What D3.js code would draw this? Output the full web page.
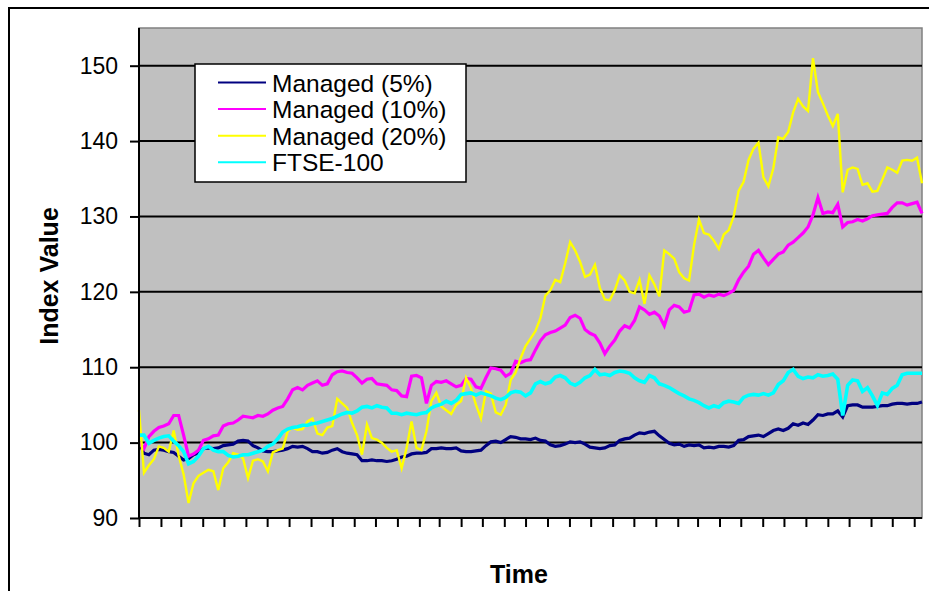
<!DOCTYPE html>
<html>
<head>
<meta charset="utf-8">
<script src="https://cdn.jsdelivr.net/npm/d3@7"></script>
<style>
  body { margin: 0; background: #fff; }
  svg { display: block; }
  text { font-family: Arial, "Liberation Sans", sans-serif; fill: #000; }
</style>
</head>
<body>
<svg id="chart" width="929" height="591"></svg>
<script>
// Weekly index values, first observation on 1 Jan 1997
const startDate = new Date(1997, 0, 1);
const stepDays = 7;

const seriesNames = ["Managed (5%)", "Managed (10%)", "Managed (20%)", "FTSE-100"];

const managed5 = [
  100.0, 98.6, 98.4, 99.0, 99.1, 99.0, 98.8, 98.7, 98.2, 97.7,
  97.9, 98.4, 98.6, 99.2, 99.3, 99.2, 99.3, 99.6, 99.7, 99.8,
  100.2, 100.3, 100.2, 99.6, 99.3, 98.9, 98.8, 98.8, 98.9, 99.0,
  99.2, 99.5, 99.4, 99.5, 99.2, 98.8, 98.8, 98.6, 98.7, 99.0,
  99.2, 98.8, 98.6, 98.5, 98.4, 97.6, 97.6, 97.7, 97.6, 97.6,
  97.5, 97.6, 97.8, 98.1, 98.2, 98.5, 98.6, 98.6, 98.7, 99.2,
  99.2, 99.3, 99.2, 99.2, 99.3, 98.9, 98.8, 98.8, 98.9, 99.0,
  99.6, 100.1, 100.2, 100.0, 100.4, 100.8, 100.7, 100.5, 100.5, 100.4,
  100.6, 100.3, 100.2, 99.7, 99.5, 99.6, 99.8, 100.1, 100.0, 100.1,
  99.8, 99.4, 99.3, 99.2, 99.3, 99.6, 99.7, 100.3, 100.5, 100.6,
  101.0, 101.3, 101.2, 101.4, 101.5, 100.9, 100.4, 99.9, 99.7, 99.8,
  99.5, 99.7, 99.6, 99.7, 99.3, 99.4, 99.3, 99.5, 99.5, 99.4,
  99.6, 100.3, 100.4, 100.8, 100.9, 101.0, 100.8, 101.2, 101.6, 101.8,
  101.6, 101.9, 102.5, 102.3, 102.6, 102.4, 103.0, 103.7, 103.6, 103.8,
  103.8, 104.2, 103.4, 104.9, 105.0, 105.0, 104.7, 104.7, 104.7, 104.8,
  104.9, 104.9, 105.1, 105.2, 105.2, 105.1, 105.2, 105.2, 105.4
];

const managed10 = [
  100.0, 99.2, 100.8, 101.5, 102.0, 102.2, 102.5, 103.6, 103.6, 101.0,
  98.2, 98.5, 99.0, 100.3, 100.5, 100.9, 101.0, 102.2, 102.5, 102.6,
  103.0, 103.5, 103.4, 103.3, 103.6, 103.5, 103.8, 104.3, 104.6, 104.8,
  105.8, 107.0, 107.3, 107.0, 107.6, 107.9, 108.2, 107.6, 107.8, 109.0,
  109.4, 109.5, 109.3, 109.2, 108.6, 107.9, 108.4, 108.5, 107.8, 107.7,
  107.6, 107.0, 106.9, 106.2, 106.1, 108.8, 108.9, 108.6, 105.2, 107.6,
  108.1, 108.0, 108.2, 107.8, 107.4, 107.6, 108.5, 108.4, 107.4, 107.2,
  108.6, 109.9, 109.8, 109.6, 108.8, 109.2, 110.8, 110.6, 110.9, 111.0,
  112.3, 113.5, 114.3, 114.6, 114.8, 115.2, 115.6, 116.6, 116.9, 116.5,
  115.0, 114.5, 114.2, 113.2, 111.8, 112.8, 113.6, 114.8, 115.5, 115.2,
  116.2, 118.0, 117.6, 117.0, 117.3, 116.8, 115.5, 117.6, 118.2, 118.0,
  117.3, 117.5, 119.6, 119.7, 119.3, 119.6, 119.4, 119.7, 119.5, 119.8,
  120.2, 121.6, 122.6, 123.4, 125.0, 125.5, 124.5, 123.6, 124.3, 125.0,
  125.3, 126.2, 126.6, 127.2, 127.8, 128.6, 130.2, 132.5, 130.4, 130.6,
  130.5, 131.6, 128.6, 129.2, 129.3, 129.6, 129.4, 129.7, 130.1, 130.2,
  130.3, 130.4, 131.2, 131.8, 131.8, 131.5, 131.7, 131.9, 130.4
];

const managed20 = [
  104.3, 96.0, 97.0, 97.8, 99.5, 99.3, 98.8, 101.6, 98.3, 95.8,
  92.0, 94.6, 95.6, 96.0, 96.4, 96.2, 93.7, 96.6, 97.4, 98.6,
  98.4, 97.9, 95.3, 97.6, 97.8, 97.5, 96.2, 98.7, 99.0, 99.2,
  101.5, 102.0, 101.7, 101.8, 102.8, 103.2, 101.2, 101.0, 102.0, 102.2,
  105.8, 105.2, 104.6, 102.6, 101.0, 98.4, 102.4, 100.6, 100.4, 100.0,
  99.3, 98.8, 99.0, 96.6, 99.3, 102.8, 99.3, 99.0, 101.5, 105.5,
  106.6, 104.8, 104.3, 103.8, 105.0, 105.5, 108.6, 107.2, 105.0, 103.2,
  106.8, 106.5, 104.0, 103.7, 105.0, 108.3, 109.3, 111.2, 112.8, 113.8,
  114.8, 116.5, 119.5, 120.2, 121.6, 121.3, 123.8, 126.6, 125.5, 124.0,
  122.0, 122.3, 123.6, 120.5, 119.0, 118.9, 120.2, 122.2, 121.5, 120.0,
  119.8, 121.6, 118.4, 122.2, 121.0, 119.4, 125.5, 125.0, 124.4, 122.6,
  121.8, 121.5, 126.2, 129.6, 127.8, 127.6, 126.8, 125.7, 127.6, 128.2,
  130.0, 133.4, 134.6, 137.5, 139.0, 139.8, 135.2, 134.0, 136.4, 140.5,
  140.3, 141.2, 143.8, 145.6, 144.6, 144.0, 151.0, 146.5, 145.0, 143.4,
  142.0, 143.6, 133.2, 136.2, 136.5, 136.3, 134.2, 134.4, 133.3, 133.4,
  134.9, 136.5, 136.2, 135.8, 137.4, 137.5, 137.4, 137.8, 134.4
];

const ftse100 = [
  101.0, 101.0, 99.9, 100.3, 100.6, 100.8, 100.9, 100.2, 99.6, 98.8,
  97.2, 97.5, 98.2, 99.2, 99.5, 99.0, 98.8, 98.8, 98.3, 98.1,
  98.2, 98.4, 98.4, 98.6, 98.8, 99.0, 99.5, 99.8, 100.5, 101.4,
  101.8, 102.0, 102.1, 102.3, 102.3, 102.5, 102.6, 102.8, 103.0, 103.2,
  103.5, 103.8, 104.0, 103.9, 104.2, 104.7, 104.8, 104.6, 104.9, 104.7,
  104.6, 103.9, 103.9, 103.7, 103.9, 103.8, 103.7, 103.9, 104.0, 104.6,
  104.9, 105.1, 105.5, 105.2, 105.6, 106.4, 106.5, 106.6, 106.3, 106.6,
  106.4, 106.2, 105.9, 105.7, 106.0, 106.6, 106.8, 106.7, 106.2, 106.6,
  107.8, 108.1, 107.8, 108.0, 108.7, 108.9, 108.6, 107.9, 107.6, 108.0,
  108.6, 108.9, 109.7, 109.0, 109.1, 108.9, 109.3, 109.5, 109.4, 109.2,
  108.6, 108.2, 108.0, 108.9, 108.6, 107.8, 107.6, 107.3, 106.9, 106.5,
  106.2, 105.8, 105.6, 105.3, 104.9, 104.6, 104.9, 104.7, 105.3, 105.5,
  105.4, 105.2, 106.0, 106.3, 106.4, 106.3, 106.5, 106.3, 106.6, 107.7,
  108.2, 109.3, 109.7, 108.8, 108.5, 108.7, 108.6, 109.0, 108.8, 108.9,
  109.1, 108.4, 103.6, 107.6, 108.3, 108.2, 106.8, 107.3, 106.2, 104.9,
  106.6, 106.4, 107.2, 107.6, 109.0, 109.2, 109.2, 109.2, 109.2
];

const yTickValues = [90, 100, 110, 120, 130, 140, 150];
const yTitle = "Index Value";
const xTitle = "Time";

// Drawing setup
const svg = d3.select("#chart");
const plot = { left: 139, top: 28, right: 922, bottom: 518 };
const colors = ["#000080", "#FF00FF", "#FFFF00", "#00FFFF"];
const widths = [3.2, 3.2, 2.4, 3.6];

const seriesValues = [managed5, managed10, managed20, ftse100];
const nPoints = managed5.length;
const dateAt = i => d3.timeDay.offset(startDate, i * stepDays);
const endDate = dateAt(nPoints - 1);

const x = d3.scaleTime().domain([startDate, endDate]).range([plot.left, plot.right]);
const y = d3.scaleLinear().domain([90, 155]).range([plot.bottom, plot.top]);

// Outer chart frame
svg.append("rect")
  .attr("x", 9).attr("y", 8).attr("width", 940).attr("height", 600)
  .attr("fill", "#fff").attr("stroke", "#000").attr("stroke-width", 2);

// Plot area
svg.append("rect")
  .attr("x", plot.left).attr("y", plot.top)
  .attr("width", plot.right - plot.left).attr("height", plot.bottom - plot.top)
  .attr("fill", "#C0C0C0").attr("stroke", "#808080").attr("stroke-width", 1.5);

// Horizontal gridlines
svg.append("g").selectAll("line")
  .data(yTickValues.filter(v => v > 90))
  .join("line")
  .attr("x1", plot.left).attr("x2", plot.right)
  .attr("y1", d => y(d)).attr("y2", d => y(d))
  .attr("stroke", "#000").attr("stroke-width", 2);

// Series lines
const line = d3.line()
  .x((d, i) => x(dateAt(i)))
  .y(d => y(d));

svg.append("g").selectAll("path")
  .data(seriesValues)
  .join("path")
  .attr("d", d => line(d))
  .attr("fill", "none")
  .attr("stroke", (d, i) => colors[i])
  .attr("stroke-width", (d, i) => widths[i])
  .attr("stroke-linejoin", "miter");

// Y axis
const yAxis = svg.append("g")
  .attr("transform", `translate(${plot.left},0)`)
  .call(d3.axisLeft(y).tickValues(yTickValues).tickSize(9).tickPadding(12));
yAxis.select(".domain").attr("stroke-width", 2).attr("d", `M0,${plot.top}V${plot.bottom}`);
yAxis.selectAll(".tick line").attr("stroke-width", 2);
yAxis.selectAll(".tick text").attr("font-size", 23).attr("font-family", "Arial, 'Liberation Sans', sans-serif");

// X axis with monthly tick marks
const monthTicks = d3.timeMonth.range(startDate, d3.timeDay.offset(endDate, 1));
const xAxis = svg.append("g")
  .attr("transform", `translate(0,${plot.bottom})`)
  .call(d3.axisBottom(x).tickValues(monthTicks).tickSize(9).tickFormat(() => ""));
xAxis.select(".domain").attr("stroke-width", 2).attr("d", `M${plot.left},0H${plot.right}`);
xAxis.selectAll(".tick line").attr("stroke-width", 2);

// Axis titles
svg.append("text")
  .attr("transform", "translate(58,276) rotate(-90)")
  .attr("text-anchor", "middle")
  .attr("font-size", 25).attr("font-weight", "bold")
  .text(yTitle);

svg.append("text")
  .attr("x", 519).attr("y", 583)
  .attr("text-anchor", "middle")
  .attr("font-size", 25).attr("font-weight", "bold")
  .text(xTitle);

// Legend
const legend = svg.append("g");
legend.append("rect")
  .attr("x", 195).attr("y", 64).attr("width", 271).attr("height", 118)
  .attr("fill", "#fff").attr("stroke", "#000").attr("stroke-width", 1.5);

const rows = legend.selectAll("g.row")
  .data(seriesNames)
  .join("g")
  .attr("class", "row")
  .attr("transform", (d, i) => `translate(0,${82.5 + i * 26.6})`);
rows.append("line")
  .attr("x1", 218).attr("x2", 266)
  .attr("stroke", (d, i) => colors[i]).attr("stroke-width", 2);
rows.append("text")
  .attr("x", 272).attr("y", 9)
  .attr("font-size", 24.5)
  .text(d => d);
</script>
</body>
</html>
